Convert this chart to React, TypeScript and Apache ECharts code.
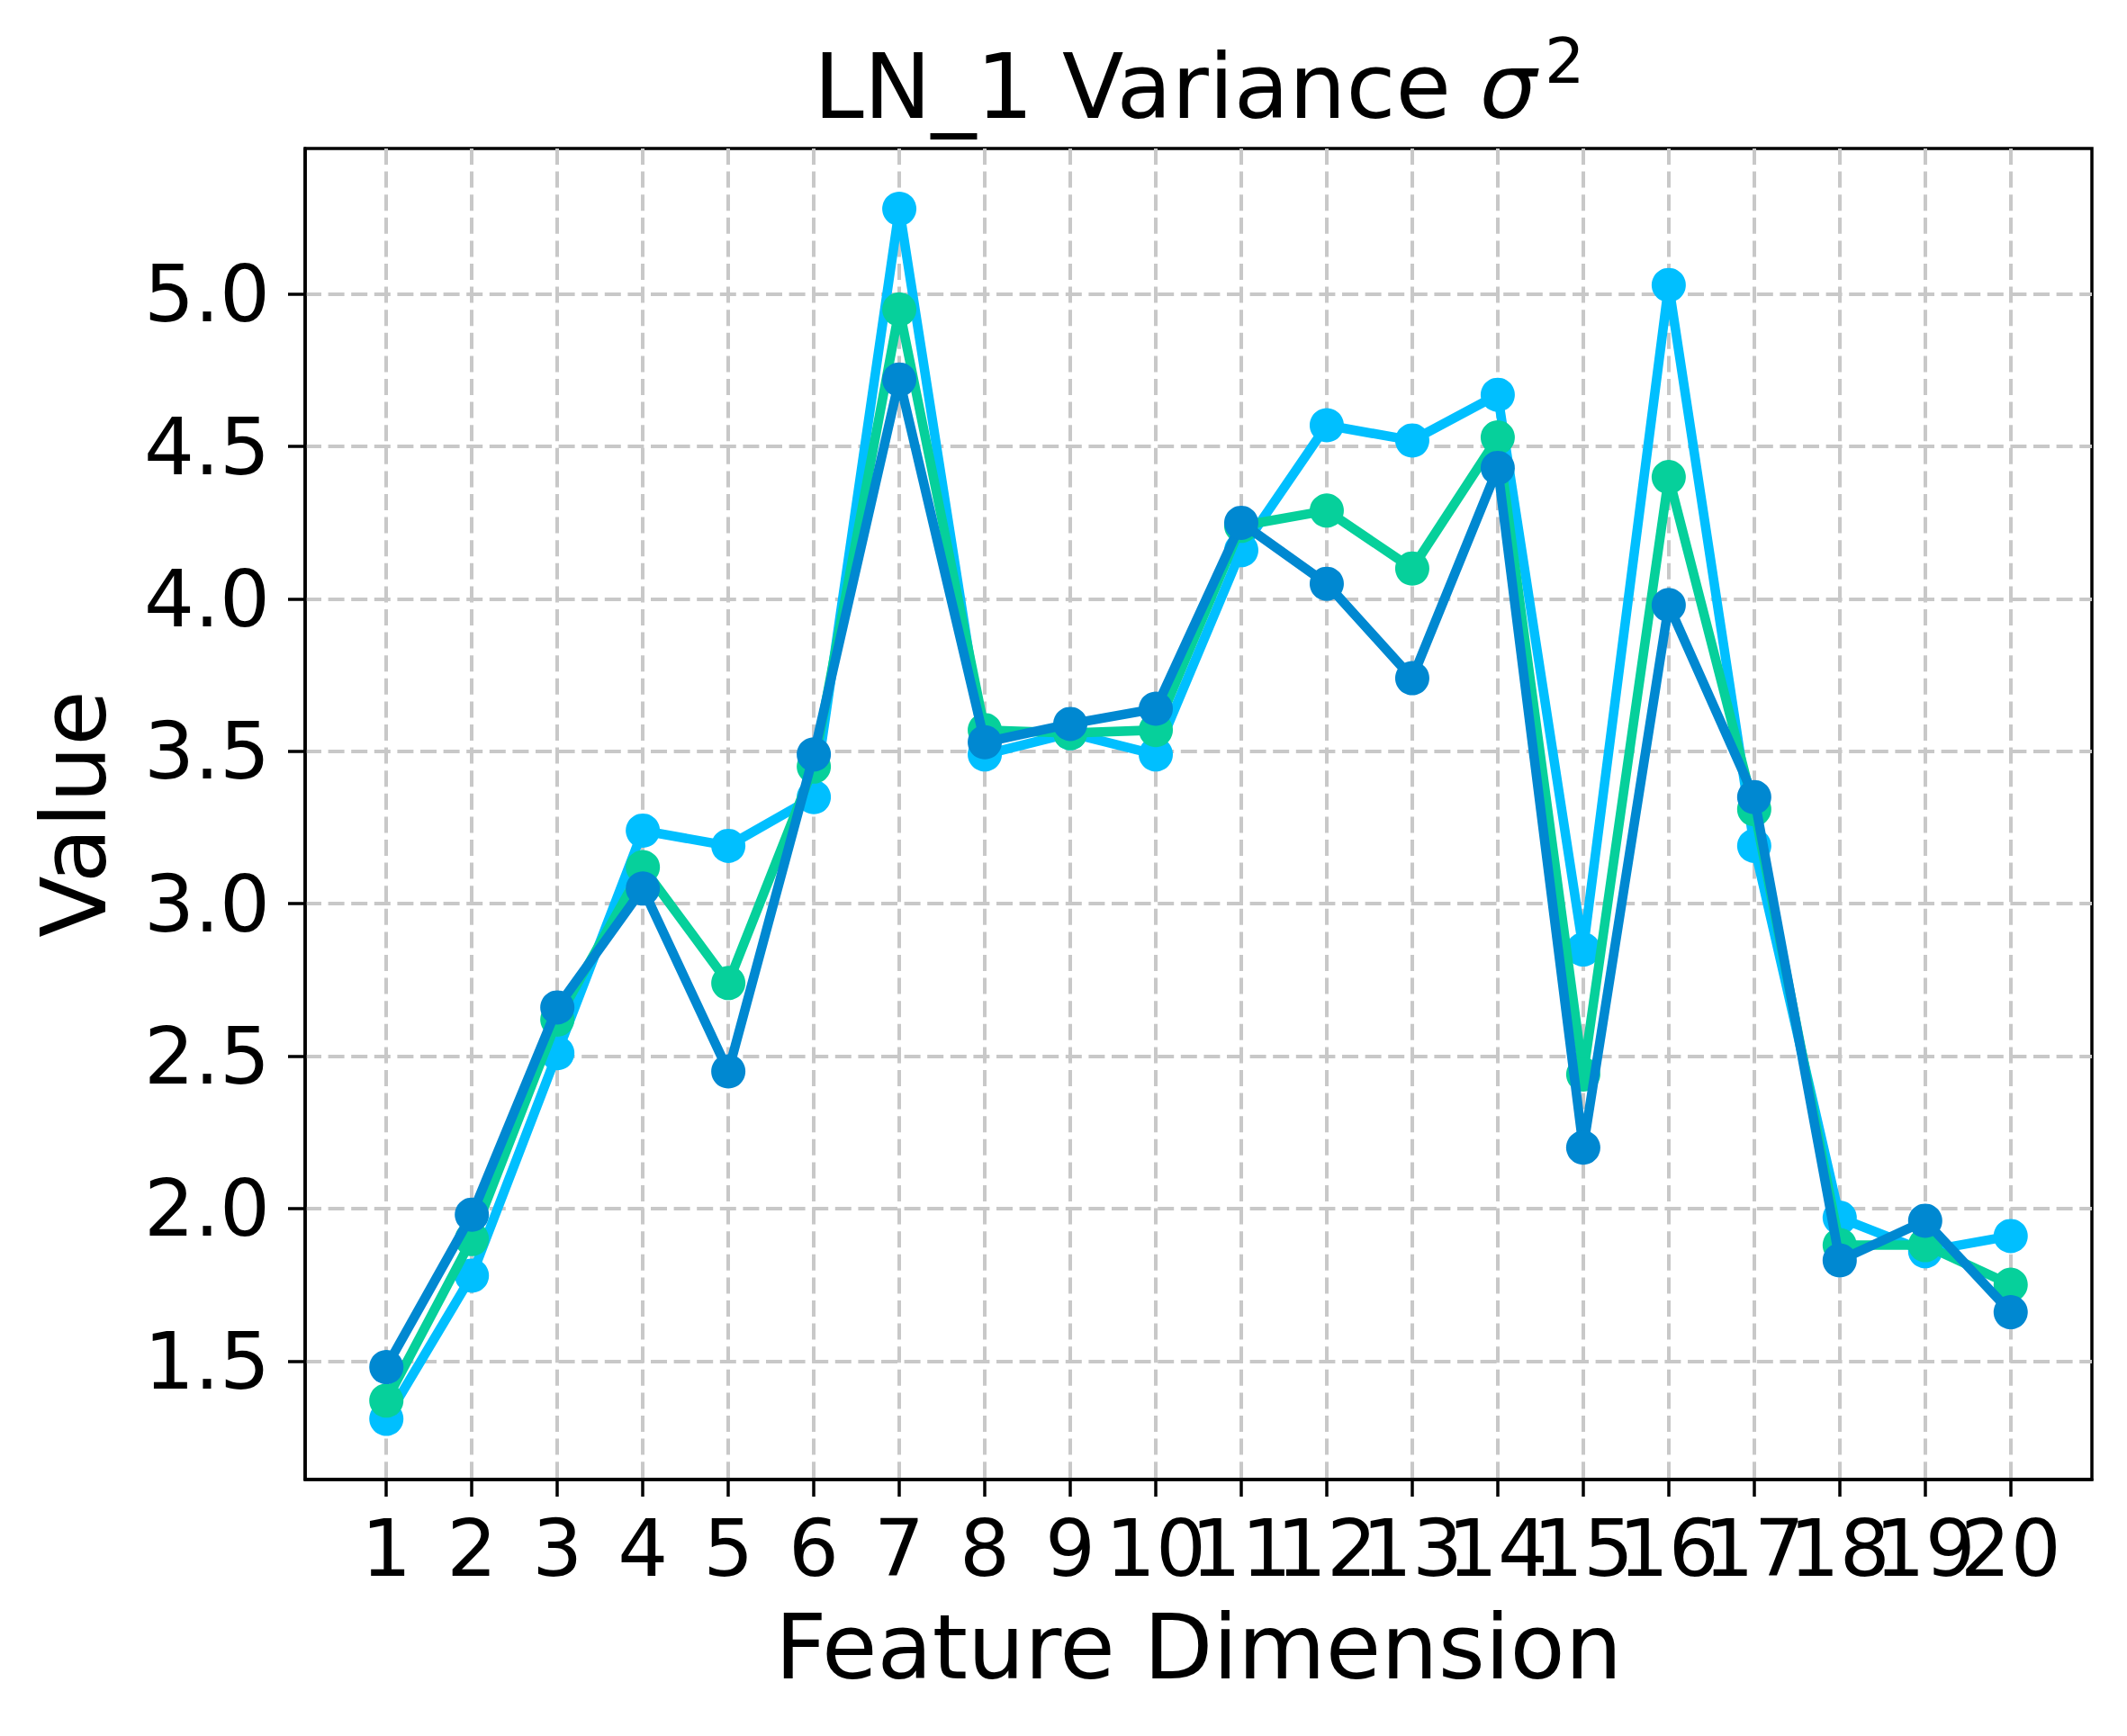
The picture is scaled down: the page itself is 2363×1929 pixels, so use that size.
import React, { useEffect, useRef } from "react";
import * as echarts from "echarts";

const dims = [1, 2, 3, 4, 5, 6, 7, 8, 9, 10, 11, 12, 13, 14, 15, 16, 17, 18, 19, 20];
const seriesLightBlue = [1.31, 1.78, 2.51, 3.24, 3.19, 3.35, 5.28, 3.49, 3.56, 3.49, 4.16, 4.57, 4.52, 4.67, 2.85, 5.03, 3.19, 1.97, 1.86, 1.91];
const seriesGreen = [1.37, 1.9, 2.62, 3.12, 2.74, 3.45, 4.95, 3.57, 3.56, 3.57, 4.24, 4.29, 4.1, 4.53, 2.44, 4.4, 3.31, 1.88, 1.88, 1.75];
const seriesDarkBlue = [1.48, 1.98, 2.66, 3.05, 2.45, 3.49, 4.72, 3.53, 3.59, 3.64, 4.25, 4.05, 3.74, 4.43, 2.2, 3.98, 3.35, 1.83, 1.96, 1.66];
const yTicks = [1.5, 2.0, 2.5, 3.0, 3.5, 4.0, 4.5, 5.0];

const FONT = "DejaVu Sans";
const W = 2363;
const H = 1929;

export default function App() {
  const ref = useRef<HTMLDivElement>(null);
  useEffect(() => {
    document.body.style.margin = "0";
    if (!ref.current) return;
    const chart = echarts.init(ref.current, null, { renderer: "svg" });
    const mk = (vals: number[]) => dims.map((d, i) => [d, vals[i]]);
    const colors = ["#00BFFF", "#06D09B", "#0088D1"];
    const all = [seriesLightBlue, seriesGreen, seriesDarkBlue];
    const oddDims = dims.filter((d) => d % 2 === 1);
    const evenDims = dims.filter((d) => d % 2 === 0);
    const gridLine = { show: true, lineStyle: { color: "#c8c8c8", width: 4, type: [18, 7.6] } };
    const xLabel = (values: number[]) => ({
      show: true,
      margin: 32,
      fontSize: 88,
      fontFamily: FONT,
      color: "#000",
      lineHeight: 88,
      customValues: values,
      showMinLabel: true,
      showMaxLabel: true,
      hideOverlap: false,
      formatter: (v: number) => String(v),
    });
    chart.setOption({
      animation: false,
      backgroundColor: "#ffffff",
      grid: {
        left: 339,
        right: W - 2324,
        top: 165,
        bottom: H - 1644,
        show: true,
        borderColor: "#000",
        borderWidth: 3.5,
        backgroundColor: "transparent",
        containLabel: false,
      },
      graphic: [
        {
          type: "text",
          x: 904,
          y: 46,
          silent: true,
          style: {
            text: "{n|LN_1 Variance }{s|σ}",
            align: "left",
            verticalAlign: "top",
            fill: "#000",
            rich: {
              n: { fontSize: 100, fontFamily: FONT, lineHeight: 100, fill: "#000" },
              s: { fontSize: 100, fontFamily: FONT, fontStyle: "italic", lineHeight: 100, fill: "#000" },
            },
          },
        },
        {
          type: "text",
          x: 1716,
          y: 68,
          silent: true,
          style: {
            text: "2",
            align: "left",
            verticalAlign: "middle",
            fill: "#000",
            fontSize: 70,
            fontFamily: FONT,
          },
        },
      ],
      xAxis: [
        {
          type: "value",
          position: "bottom",
          min: 0.05,
          max: 20.95,
          name: "Feature Dimension",
          nameLocation: "middle",
          nameGap: 136,
          nameTextStyle: { fontSize: 100, fontFamily: FONT, color: "#000", lineHeight: 100 },
          axisLine: { show: true, onZero: false, lineStyle: { color: "#000", width: 3.5 } },
          axisTick: { show: true, inside: false, length: 19, lineStyle: { color: "#000", width: 3.5 }, customValues: dims },
          axisLabel: xLabel(oddDims),
          splitLine: gridLine,
        },
        {
          type: "value",
          position: "bottom",
          offset: 0,
          min: 0.05,
          max: 20.95,
          axisLine: { show: false, onZero: false },
          axisTick: { show: false },
          axisLabel: xLabel(evenDims),
          splitLine: { show: false },
        },
      ],
      yAxis: {
        type: "value",
        min: 1.111,
        max: 5.478,
        name: "Value",
        nameLocation: "middle",
        nameRotate: 90,
        nameGap: 207,
        nameTextStyle: { fontSize: 100, fontFamily: FONT, color: "#000", lineHeight: 100 },
        axisLine: { show: true, lineStyle: { color: "#000", width: 3.5 } },
        axisTick: { show: true, inside: false, length: 19, lineStyle: { color: "#000", width: 3.5 }, customValues: yTicks },
        axisLabel: {
          show: true,
          margin: 39,
          fontSize: 88,
          fontFamily: FONT,
          color: "#000",
          customValues: yTicks,
          showMinLabel: true,
          showMaxLabel: true,
          formatter: (v: number) => v.toFixed(1),
        },
        splitLine: gridLine,
      },
      series: all.map((vals, i) => ({
        type: "line",
        xAxisIndex: 0,
        yAxisIndex: 0,
        data: mk(vals),
        symbol: "circle",
        symbolSize: 38,
        showSymbol: true,
        lineStyle: { width: 10.5, color: colors[i] },
        itemStyle: { color: colors[i] },
        emphasis: { disabled: true },
        silent: true,
        z: 2 + i,
      })),
    });
    return () => chart.dispose();
  }, []);
  return <div ref={ref} style={{ width: W, height: H }} />;
}
